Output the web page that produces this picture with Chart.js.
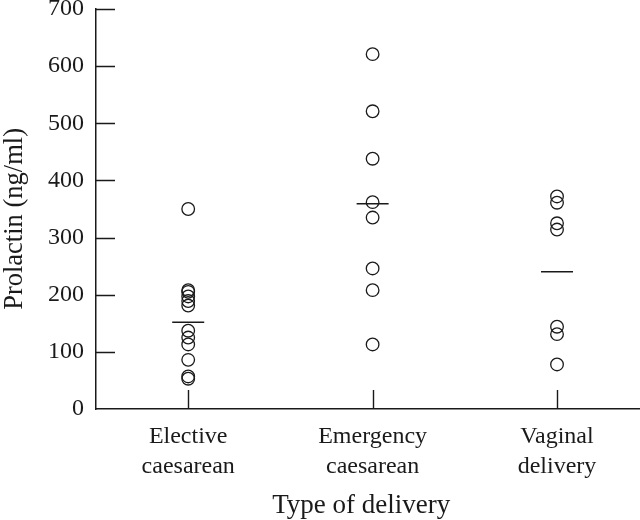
<!DOCTYPE html>
<html>
<head>
<meta charset="utf-8">
<script src="https://cdn.jsdelivr.net/npm/chart.js@4.4.1/dist/chart.umd.min.js"></script>
<style>
  html, body { margin: 0; padding: 0; background: #fff; }
  #wrap { width: 640px; height: 520px; }
</style>
</head>
<body>
<div id="wrap"><canvas id="chart" width="640" height="520"></canvas></div>
<script>
// categories and values
const categories = [["Elective", "caesarean"], ["Emergency", "caesarean"], ["Vaginal", "delivery"]];
const electiveValues = [350, 208, 205, 197, 189, 181, 137, 125, 113, 86, 57, 53];
const emergencyValues = [621, 521, 438, 362, 335, 246, 208, 113];
const vaginalValues = [372, 361, 325, 314, 144, 131, 78];
const groupMeans = [152, 359, 240];
const yTicks = [0, 100, 200, 300, 400, 500, 600, 700];

const FONT = "'Liberation Serif', 'Times New Roman', serif";
const INK = "#1a1a1a";

const groups = [electiveValues, emergencyValues, vaginalValues];
const pointData = [];
groups.forEach((vals, i) => {
  vals.forEach(v => pointData.push({ x: i + 1, y: v }));
});
const meanData = groupMeans.map((m, i) => ({ x: i + 1, y: m }));

// tick marks pointing into the plot, as in the original
const innerTicks = {
  id: "innerTicks",
  afterDatasetsDraw(chart) {
    const ctx = chart.ctx;
    const area = chart.chartArea;
    const xs = chart.scales.x, ys = chart.scales.y;
    ctx.save();
    ctx.strokeStyle = INK;
    ctx.lineWidth = 1.4;
    ctx.beginPath();
    ys.ticks.forEach(t => {
      if (t.value === 0) return;
      const py = Math.round(ys.getPixelForValue(t.value)) + 0.5;
      ctx.moveTo(area.left, py);
      ctx.lineTo(area.left + 19, py);
    });
    xs.ticks.forEach(t => {
      const px = Math.round(xs.getPixelForValue(t.value)) + 0.5;
      ctx.moveTo(px, area.bottom);
      ctx.lineTo(px, area.bottom - 19);
    });
    ctx.stroke();
    ctx.restore();
  }
};

new Chart(document.getElementById("chart"), {
  type: "scatter",
  data: {
    datasets: [
      {
        data: pointData,
        pointStyle: "circle",
        pointRadius: 6.3,
        pointBorderWidth: 1.3,
        pointBorderColor: INK,
        pointBackgroundColor: "rgba(0,0,0,0)"
      },
      {
        data: meanData,
        pointStyle: "line",
        pointRadius: 16,
        pointBorderWidth: 1.5,
        pointBorderColor: INK
      }
    ]
  },
  options: {
    responsive: false,
    animation: false,
    layout: { autoPadding: false, padding: { top: 9, right: 0, left: 0, bottom: 0 } },
    plugins: {
      legend: { display: false },
      tooltip: { enabled: false }
    },
    scales: {
      x: {
        type: "linear",
        min: 0.5,
        max: 3.45,
        afterBuildTicks: s => { s.ticks = categories.map((c, i) => ({ value: i + 1 })); },
        afterFit: s => { s.height = 111; s.paddingLeft = 0; s.paddingRight = 0; },
        grid: { display: false, drawTicks: false },
        border: { display: true, color: INK, width: 1.5 },
        ticks: {
          padding: 13,
          color: INK,
          maxRotation: 0,
          autoSkip: false,
          font: { family: FONT, size: 24, lineHeight: 1.23 },
          callback: v => categories[v - 1] || ""
        },
        title: {
          display: true,
          // trailing spaces shift the centred title slightly left, as in the original
          text: "Type of delivery  ",
          color: INK,
          font: { family: FONT, size: 27, lineHeight: 1 },
          padding: { top: 0, bottom: 1 }
        }
      },
      y: {
        min: 0,
        max: 700,
        afterBuildTicks: s => { s.ticks = yTicks.map(v => ({ value: v })); },
        afterFit: s => { s.width = 96; s.paddingTop = 0; s.paddingBottom = 0; },
        grid: { display: false, drawTicks: false },
        border: { display: true, color: INK, width: 1.5 },
        ticks: {
          padding: 12,
          color: INK,
          font: { family: FONT, size: 24 }
        },
        title: {
          display: true,
          // trailing spaces nudge the centred label down to where the original sits
          text: "Prolactin (ng/ml)   ",
          color: INK,
          font: { family: FONT, size: 26.5, lineHeight: 1.05 },
          padding: { top: 1, bottom: 0 }
        }
      }
    }
  },
  plugins: [innerTicks]
});
</script>
</body>
</html>
